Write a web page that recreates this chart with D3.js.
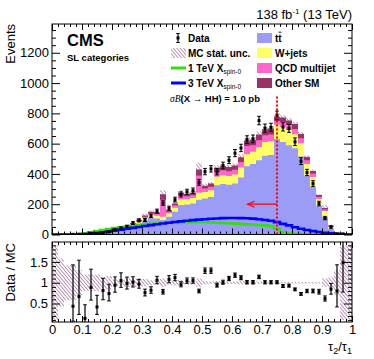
<!DOCTYPE html>
<html>
<head>
<meta charset="utf-8">
<script src="https://cdn.jsdelivr.net/npm/d3@7"></script>
<style>
  body { margin: 0; background: #fff; }
  svg { display: block; }
</style>
</head>
<body>
<div id="chart"></div>
<script>
"use strict";

// == DATA ==
var nBins = 50, xMin = 0, xMax = 1;

var ttbar = [0.8,1.1,1.5,1.7,2.2,5,6.6,8.8,11.8,17,
  24.4,29.6,40,54.8,71,92.5,111,105,95,118,
  150,195,198,205,230,238,248,325,333,329,
  337,377,450,465,490,520,525,630,610,590,
  570,515,390,315,190,118,38,3.2,1.8,0.2];
var wjets = [0.1,0.2,0.2,0.3,0.4,1,1.2,1.6,2.1,3,
  4.3,5.2,7,9.6,12.5,16.3,19.5,19,22,21,
  27,36,35,36,45,42,44,57,59,58,
  59,66,80,81,86,90,91,95,100,100,
  92,88,75,65,45,37,12,1,0.5,0.05];
var qcd = [0.05,0.1,0.2,0.2,0.2,0.5,0.6,0.8,1.1,1.6,
  2.3,2.8,3.8,5.2,6.7,8.7,10.5,12,113,12,
  16,26,19,18,115,23,24,31,32,31,
  32,36,55,44,46,45,44,25,32,33,
  35,32,25,22,15,12,5,0.5,0.2,0.03];
var otherSM = [0.05,0.1,0.1,0.1,0.2,0.5,0.6,0.8,1,1.4,
  2,2.4,3.2,4.4,5.8,7.5,9,9,35,9,
  12,18,16,16,40,19,20,27,26,27,
  27,31,35,35,38,40,40,28,30,30,
  32,28,21,18,11,8,3,0.3,0.2,0.02];
var dataEvents = [0,0,0,1,2,1,8,5,13,17,
  31,42,53,75,93,95,123,154,207,173,
  230,264,281,289,344,415,433,414,455,490,
  537,571,626,631,752,702,707,786,710,700,
  612,484,409,336,204,108,49,4,4,0];
// relative MC stat. uncertainty
var mcStatRel = [0.9,0.58,0.42,0.42,0.3,0.2,0.2,0.2,0.14,0.16,
  0.08,0.07,0.1,0.1,0.1,0.09,0.06,0.05,0.1,0.05,
  0.06,0.07,0.04,0.05,0.1,0.04,0.03,0.04,0.03,0.03,
  0.03,0.04,0.03,0.03,0.03,0.02,0.02,0.03,0.02,0.02,
  0.02,0.02,0.02,0.02,0.02,0.1,0.12,0.3,0.9,0.9];
var sig1TeV = [0,0,0,0,2,8,15,22,30,36,
  42,48,53,58,62,66,70,73,76,78,
  80,81,82,82,82,81,80,78,76,74,
  72,70,67,64,62,60,55,38,15,8,
  5,3,2,1,0,0,0,0,0,0];
var sig3TeV = [0,0,0,0,0,2,5,10,15,20,
  26,32,38,44,50,56,62,68,73,78,
  83,87,91,95,98,101,104,106,108,109,
  109,108,107,105,101,96,91,82,70,60,
  48,38,30,22,17,12,8,4,1,0];

var cutValue = 0.75, arrowEnd = 0.652, arrowLevel = 200, cutTop = 920;

var FONT = "'Liberation Sans', Arial, Helvetica, sans-serif";

// == LAYOUT ==
var W = 374, H = 359;
var P1 = { l: 52, r: 352, t: 24, b: 234.5 };
var P2 = { l: 52, r: 352, t: 242, b: 322 };

var svg = d3.select("#chart").append("svg")
    .attr("width", W).attr("height", H)
    .style("font-family", FONT);

var x = d3.scaleLinear().domain([xMin, xMax]).range([P1.l, P1.r]);
var y = d3.scaleLinear().domain([0, 1390]).range([P1.b, P1.t]);
var yr = d3.scaleLinear().domain([0.055, 1.98]).range([P2.b, P2.t]);

var edges = d3.range(nBins + 1).map(function(i) { return xMin + i * (xMax - xMin) / nBins; });
var centers = d3.range(nBins).map(function(i) { return (edges[i] + edges[i + 1]) / 2; });
var idx = d3.range(nBins + 1);
function at(arr, i) { return arr[Math.min(i, nBins - 1)]; }

var defs = svg.append("defs");
defs.append("pattern").attr("id", "hatch")
    .attr("patternUnits", "userSpaceOnUse")
    .attr("width", 2.6).attr("height", 2.6)
    .attr("patternTransform", "rotate(-40)")
  .append("line")
    .attr("x1", 0).attr("y1", 0).attr("x2", 0).attr("y2", 2.6)
    .attr("stroke", "#84397c").attr("stroke-width", 1.05);
defs.append("clipPath").attr("id", "clip1").append("rect")
    .attr("x", P1.l).attr("y", P1.t).attr("width", P1.r - P1.l).attr("height", P1.b - P1.t);
defs.append("clipPath").attr("id", "clip2").append("rect")
    .attr("x", P2.l).attr("y", P2.t).attr("width", P2.r - P2.l).attr("height", P2.b - P2.t);

// == STACK ==
var comps = [
  { name: "tt", vals: ttbar, color: "#9b9bf8" },
  { name: "W+jets", vals: wjets, color: "#ffff66" },
  { name: "QCD multijet", vals: qcd, color: "#ff66cc" },
  { name: "Other SM", vals: otherSM, color: "#993366" }
];
var cum = d3.range(nBins).map(function() { return 0; });
comps.forEach(function(c) {
  cum = cum.map(function(v, i) { return v + c.vals[i]; });
  c.top = cum.slice();
});
var mcTotal = cum;

var g1 = svg.append("g").attr("clip-path", "url(#clip1)");

comps.slice().reverse().forEach(function(c) {
  g1.append("path").datum(idx)
    .attr("fill", c.color)
    .attr("d", d3.area().curve(d3.curveStepAfter)
      .x(function(i) { return x(edges[i]); })
      .y0(y(0))
      .y1(function(i) { return y(at(c.top, i)); }));
});

// MC stat band
g1.append("path").datum(idx)
  .attr("fill", "url(#hatch)")
  .attr("d", d3.area().curve(d3.curveStepAfter)
    .x(function(i) { return x(edges[i]); })
    .y0(function(i) { return y(at(mcTotal, i) * (1 - at(mcStatRel, i))); })
    .y1(function(i) { return y(at(mcTotal, i) * (1 + at(mcStatRel, i))); }));

// signals
var stepLine = function(vals, sc) {
  return d3.line().curve(d3.curveStepAfter)
    .x(function(i) { return x(edges[i]); })
    .y(function(i) { return sc(at(vals, i)); });
};
g1.append("path").datum(idx).attr("fill", "none")
  .attr("stroke", "#33dd11").attr("stroke-width", 2.6)
  .attr("d", stepLine(sig1TeV, y));
g1.append("path").datum(idx).attr("fill", "none")
  .attr("stroke", "#0000ff").attr("stroke-width", 2.6)
  .attr("d", stepLine(sig3TeV, y));

// Poisson (Garwood) interval
function garwood(n) {
  if (n === 0) return [0, 1.841];
  var lo = n * Math.pow(1 - 1 / (9 * n) - 1 / (3 * Math.sqrt(n)), 3);
  var m = n + 1;
  var hi = m * Math.pow(1 - 1 / (9 * m) + 1 / (3 * Math.sqrt(m)), 3);
  return [lo, hi];
}

function drawPoints(g, pts, sc) {
  var p = g.selectAll(null).data(pts).enter().append("g");
  p.append("line")
    .attr("x1", function(d) { return x(d.x); }).attr("x2", function(d) { return x(d.x); })
    .attr("y1", function(d) { return sc(d.lo); }).attr("y2", function(d) { return sc(d.hi); })
    .attr("stroke", "#000").attr("stroke-width", 1.2);
  [function(d) { return sc(d.lo); }, function(d) { return sc(d.hi); }].forEach(function(fy) {
    p.append("line")
      .attr("x1", function(d) { return x(d.x) - 1.8; }).attr("x2", function(d) { return x(d.x) + 1.8; })
      .attr("y1", fy).attr("y2", fy)
      .attr("stroke", "#000").attr("stroke-width", 1);
  });
  p.append("rect")
    .attr("x", function(d) { return x(d.x) - 1.5; }).attr("y", function(d) { return sc(d.v) - 1.5; })
    .attr("width", 3).attr("height", 3).attr("fill", "#000");
}

var topPts = [], ratioPts = [];
dataEvents.forEach(function(n, i) {
  if (n <= 0) return;
  var e = garwood(n);
  topPts.push({ x: centers[i], v: n, lo: e[0], hi: e[1] });
  ratioPts.push({ x: centers[i], v: n / mcTotal[i], lo: e[0] / mcTotal[i], hi: e[1] / mcTotal[i] });
});
drawPoints(g1, topPts, y);

// cut line + arrow
g1.append("line")
  .attr("x1", x(cutValue)).attr("x2", x(cutValue))
  .attr("y1", y(0)).attr("y2", y(cutTop))
  .attr("stroke", "#ff0000").attr("stroke-width", 2).attr("stroke-dasharray", "2,2");
var ay = y(arrowLevel);
g1.append("line")
  .attr("x1", x(cutValue)).attr("x2", x(arrowEnd))
  .attr("y1", ay).attr("y2", ay)
  .attr("stroke", "#ff0000").attr("stroke-width", 1.2);
g1.append("path")
  .attr("d", "M" + (x(arrowEnd) + 7) + "," + (ay - 3) + "L" + x(arrowEnd) + "," + ay + "L" + (x(arrowEnd) + 7) + "," + (ay + 3))
  .attr("fill", "none").attr("stroke", "#ff0000").attr("stroke-width", 1.2);

// == RATIO PANEL ==
var g2 = svg.append("g").attr("clip-path", "url(#clip2)");
g2.append("path").datum(idx)
  .attr("fill", "url(#hatch)")
  .attr("d", d3.area().curve(d3.curveStepAfter)
    .x(function(i) { return x(edges[i]); })
    .y0(function(i) { return yr(1 - at(mcStatRel, i)); })
    .y1(function(i) { return yr(1 + at(mcStatRel, i)); }));
drawPoints(g2, ratioPts, yr);

// == AXES ==
function ticks(g, axisFn, sc, vals, len, fmt, pad) {
  var a = axisFn(sc).tickValues(vals).tickSize(-len).tickPadding(pad || 3)
    .tickFormat(fmt || function() { return ""; });
  g.call(a);
  g.select(".domain").remove();
  g.selectAll("line").attr("stroke", "#000").attr("stroke-width", 1);
  g.selectAll("text").attr("font-family", FONT).attr("font-size", 13).attr("fill", "#000");
  if (!fmt) g.selectAll("text").remove();
}

var xMajor = d3.range(0, 11).map(function(i) { return i / 10; });
var xMinor = d3.range(0, 51).map(function(i) { return i / 50; }).filter(function(v, i) { return i % 5 !== 0; });
var yMajor = d3.range(0, 1201, 200);
var yMinor = d3.range(0, 1390, 50).filter(function(v) { return v % 200 !== 0; });
var rMajor = [0.5, 1, 1.5];
var rMinor = [0.1,0.2,0.3,0.4,0.6,0.7,0.8,0.9,1.1,1.2,1.3,1.4,1.6,1.7,1.8,1.9];

var ax = svg.append("g");
function gAt(tx, ty) { return ax.append("g").attr("transform", "translate(" + tx + "," + ty + ")"); }

// top panel
ticks(gAt(P1.l, 0), d3.axisLeft, y, yMajor, 8, function(d) { return d; }, 3);
ticks(gAt(P1.l, 0), d3.axisLeft, y, yMinor, 4);
ticks(gAt(P1.r, 0), d3.axisRight, y, yMajor, 8);
ticks(gAt(P1.r, 0), d3.axisRight, y, yMinor, 4);
ticks(gAt(0, P1.b), d3.axisBottom, x, xMajor, 6);
ticks(gAt(0, P1.b), d3.axisBottom, x, xMinor, 3);
ticks(gAt(0, P1.t), d3.axisTop, x, xMajor, 6);
ticks(gAt(0, P1.t), d3.axisTop, x, xMinor, 3);

// ratio panel
ticks(gAt(P2.l, 0), d3.axisLeft, yr, rMajor, 8, function(d) { return String(d); }, 4);
ticks(gAt(P2.l, 0), d3.axisLeft, yr, rMinor, 4);
ticks(gAt(P2.r, 0), d3.axisRight, yr, rMajor, 8);
ticks(gAt(P2.r, 0), d3.axisRight, yr, rMinor, 4);
ticks(gAt(0, P2.b), d3.axisBottom, x, xMajor, 6, function(d) {
  return (d === 0 || d === 1) ? String(d) : d3.format(".1f")(d);
}, 3);
ticks(gAt(0, P2.b), d3.axisBottom, x, xMinor, 3);
ticks(gAt(0, P2.t), d3.axisTop, x, xMajor, 6);
ticks(gAt(0, P2.t), d3.axisTop, x, xMinor, 3);

[P1, P2].forEach(function(p) {
  ax.append("rect").attr("x", p.l).attr("y", p.t)
    .attr("width", p.r - p.l).attr("height", p.b - p.t)
    .attr("fill", "none").attr("stroke", "#000").attr("stroke-width", 1);
});

// == TEXT ==
var lumi = svg.append("text").attr("x", 352).attr("y", 19)
  .attr("text-anchor", "end").attr("font-size", 13);
lumi.append("tspan").text("138 fb");
lumi.append("tspan").attr("font-size", 8).attr("dy", -5).text("-1");
lumi.append("tspan").attr("dy", 5).text(" (13 TeV)");

svg.append("text").attr("x", 67).attr("y", 45.5)
  .attr("font-size", 16.5).attr("font-weight", "bold").text("CMS");
svg.append("text").attr("x", 67).attr("y", 60.5)
  .attr("font-size", 9.5).attr("font-weight", "bold").text("SL categories");

svg.append("text").attr("transform", "translate(15," + P1.t + ") rotate(-90)")
  .attr("text-anchor", "end").attr("font-size", 13).text("Events");
svg.append("text").attr("transform", "translate(15," + (P2.t + 1) + ") rotate(-90)")
  .attr("text-anchor", "end").attr("font-size", 13).text("Data / MC");

var xt = svg.append("text").attr("x", 352).attr("y", 351)
  .attr("text-anchor", "end").attr("font-size", 13);
xt.append("tspan").text("τ");
xt.append("tspan").attr("font-size", 9).attr("dy", 3).text("2");
xt.append("tspan").attr("dy", -3).text("/τ");
xt.append("tspan").attr("font-size", 9).attr("dy", 3).text("1");

// == LEGEND ==
var leg = svg.append("g").attr("font-size", 10).attr("font-weight", "bold");
var rows = [38, 53, 68, 83];

// data marker
leg.append("line").attr("x1", 178).attr("x2", 178).attr("y1", rows[0] - 4.5).attr("y2", rows[0] + 4.5)
  .attr("stroke", "#000").attr("stroke-width", 1.2);
[rows[0] - 4.5, rows[0] + 4.5].forEach(function(yy) {
  leg.append("line").attr("x1", 176.2).attr("x2", 179.8).attr("y1", yy).attr("y2", yy)
    .attr("stroke", "#000").attr("stroke-width", 1);
});
leg.append("rect").attr("x", 176.5).attr("y", rows[0] - 1.5).attr("width", 3).attr("height", 3).attr("fill", "#000");
leg.append("text").attr("x", 188).attr("y", rows[0] + 3.6).text("Data");

leg.append("rect").attr("x", 171).attr("y", rows[1] - 5).attr("width", 15).attr("height", 10)
  .attr("fill", "url(#hatch)");
leg.append("text").attr("x", 188).attr("y", rows[1] + 3.6).text("MC stat. unc.");

[[rows[2], "#33dd11", "1 TeV X"], [rows[3], "#0000ff", "3 TeV X"]].forEach(function(r) {
  leg.append("line").attr("x1", 171).attr("x2", 186).attr("y1", r[0]).attr("y2", r[0])
    .attr("stroke", r[1]).attr("stroke-width", 3);
  var t = leg.append("text").attr("x", 188).attr("y", r[0] + 3.6);
  t.append("tspan").text(r[2]);
  t.append("tspan").attr("font-size", 6.5).attr("font-weight", "normal").attr("dy", 2.5).text("spin-0");
});

var sb = leg.append("text").attr("x", 170).attr("y", 101.5).attr("font-size", 9.5);
sb.append("tspan").attr("font-family", "'Liberation Serif', serif").attr("font-style", "italic")
  .attr("font-weight", "normal").text("σB");
sb.append("tspan").text("(X ");
sb.append("tspan").attr("font-weight", "normal").text("→");
sb.append("tspan").text(" HH) = 1.0 pb");

comps.forEach(function(c, i) {
  leg.append("rect").attr("x", 257).attr("y", rows[i] - 5).attr("width", 15).attr("height", 10)
    .attr("fill", c.color);
  var t = leg.append("text").attr("x", 275).attr("y", rows[i] + 3.6).text(c.name);
  if (c.name === "tt") {
    var w = t.node().getComputedTextLength();
    leg.append("line").attr("x1", 275 + w / 2 + 0.3).attr("x2", 275 + w - 0.3)
      .attr("y1", rows[i] - 5.8).attr("y2", rows[i] - 5.8)
      .attr("stroke", "#000").attr("stroke-width", 0.9);
  }
});
</script>
</body>
</html>
